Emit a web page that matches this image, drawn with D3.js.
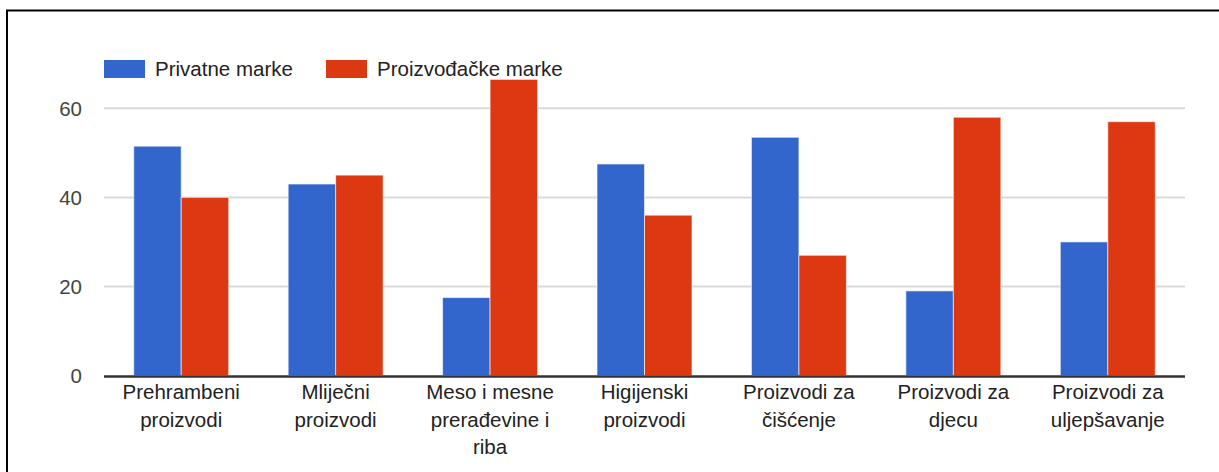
<!DOCTYPE html>
<html>
<head>
<meta charset="utf-8">
<script src="https://cdn.jsdelivr.net/npm/d3@7"></script>
<style>
  body { margin: 0; background: #fff; }
  svg { display: block; font-family: "Liberation Sans", Arial, sans-serif; }
</style>
</head>
<body>
<svg id="chart" width="1219" height="472"></svg>
<script>
var categories = ["Prehrambeni proizvodi", "Mliječni proizvodi", "Meso i mesne prerađevine i riba",
  "Higijenski proizvodi", "Proizvodi za čišćenje", "Proizvodi za djecu", "Proizvodi za uljepšavanje"];
var seriesNames = ["Privatne marke", "Proizvođačke marke"];
var privatne = [51.5, 43, 17.5, 47.5, 53.5, 19, 30];
var proizvodjacke = [40, 45, 66.5, 36, 27, 58, 57];
var yTicks = [0, 20, 40, 60];
var colors = ["#3366cc", "#dc3912"];

var svg = d3.select("#chart");

// frame round the chart, runs past the right and bottom edge
svg.append("rect")
  .attr("x", 7).attr("y", 10.5)
  .attr("width", 1400).attr("height", 600)
  .attr("fill", "none")
  .attr("stroke", "black")
  .attr("stroke-width", 2);

var plotLeft = 104, plotRight = 1185, plotTop = 63.8, plotBottom = 375.5;
var fontSize = 20.5;

var x = d3.scaleBand()
  .domain(categories)
  .range([plotLeft, plotRight])
  .paddingInner(0.385)
  .paddingOuter(0.1925);

var xInner = d3.scaleBand()
  .domain(seriesNames)
  .range([0, x.bandwidth()]);

var y = d3.scaleLinear()
  .domain([0, 70])
  .range([plotBottom, plotTop]);

// gridlines
svg.append("g").selectAll("line")
  .data(yTicks.filter(d => d > 0))
  .join("line")
  .attr("x1", plotLeft).attr("x2", plotRight)
  .attr("y1", d => y(d)).attr("y2", d => y(d))
  .attr("stroke", "#d9d9d9")
  .attr("stroke-width", 2);

// y labels
svg.append("g").selectAll("text")
  .data(yTicks)
  .join("text")
  .attr("x", 82)
  .attr("y", d => y(d))
  .attr("dy", "0.35em")
  .attr("text-anchor", "end")
  .attr("font-size", fontSize)
  .attr("fill", "#444")
  .text(d => d);

var rows = categories.map((c, i) => ({ cat: c, values: [privatne[i], proizvodjacke[i]] }));

var groups = svg.append("g").selectAll("g")
  .data(rows)
  .join("g")
  .attr("transform", d => "translate(" + x(d.cat) + ",0)");

groups.selectAll("rect")
  .data(d => d.values.map((v, j) => ({ name: seriesNames[j], value: v, j: j })))
  .join("rect")
  .attr("x", d => xInner(d.name))
  .attr("width", xInner.bandwidth())
  .attr("y", d => y(d.value))
  .attr("height", d => plotBottom - y(d.value))
  .attr("fill", d => colors[d.j])
  .attr("stroke", "#fff")
  .attr("stroke-opacity", 0.6)
  .attr("stroke-width", 1);

// baseline
svg.append("line")
  .attr("x1", plotLeft).attr("x2", plotRight)
  .attr("y1", plotBottom + 1).attr("y2", plotBottom + 1)
  .attr("stroke", "#333")
  .attr("stroke-width", 2.5);

// category labels, wrapped like google charts does it
var xLabels = svg.append("g").selectAll("text")
  .data(categories)
  .join("text")
  .attr("x", d => x(d) + x.bandwidth() / 2)
  .attr("y", 399)
  .attr("text-anchor", "middle")
  .attr("font-size", fontSize)
  .attr("fill", "#222");

xLabels.each(function(d) {
  var el = d3.select(this);
  var words = d.split(" ");
  var lines = [];
  var line = [];
  var probe = el.append("tspan");
  words.forEach(w => {
    line.push(w);
    probe.text(line.join(" "));
    if (probe.node().getComputedTextLength() > 150 && line.length > 1) {
      line.pop();
      lines.push(line.join(" "));
      line = [w];
    }
  });
  lines.push(line.join(" "));
  probe.remove();
  lines.forEach((l, k) => {
    el.append("tspan")
      .attr("x", x(d) + x.bandwidth() / 2)
      .attr("y", 399 + k * 27.5)
      .text(l);
  });
});

// legend
var legend = svg.append("g");
var legendX = [104, 326];
seriesNames.forEach((name, i) => {
  legend.append("rect")
    .attr("x", legendX[i]).attr("y", 60)
    .attr("width", 41).attr("height", 18)
    .attr("fill", colors[i]);
  legend.append("text")
    .attr("x", legendX[i] + 51).attr("y", 69)
    .attr("dy", "0.35em")
    .attr("font-size", fontSize)
    .attr("fill", "#222")
    .text(name);
});
</script>
</body>
</html>
